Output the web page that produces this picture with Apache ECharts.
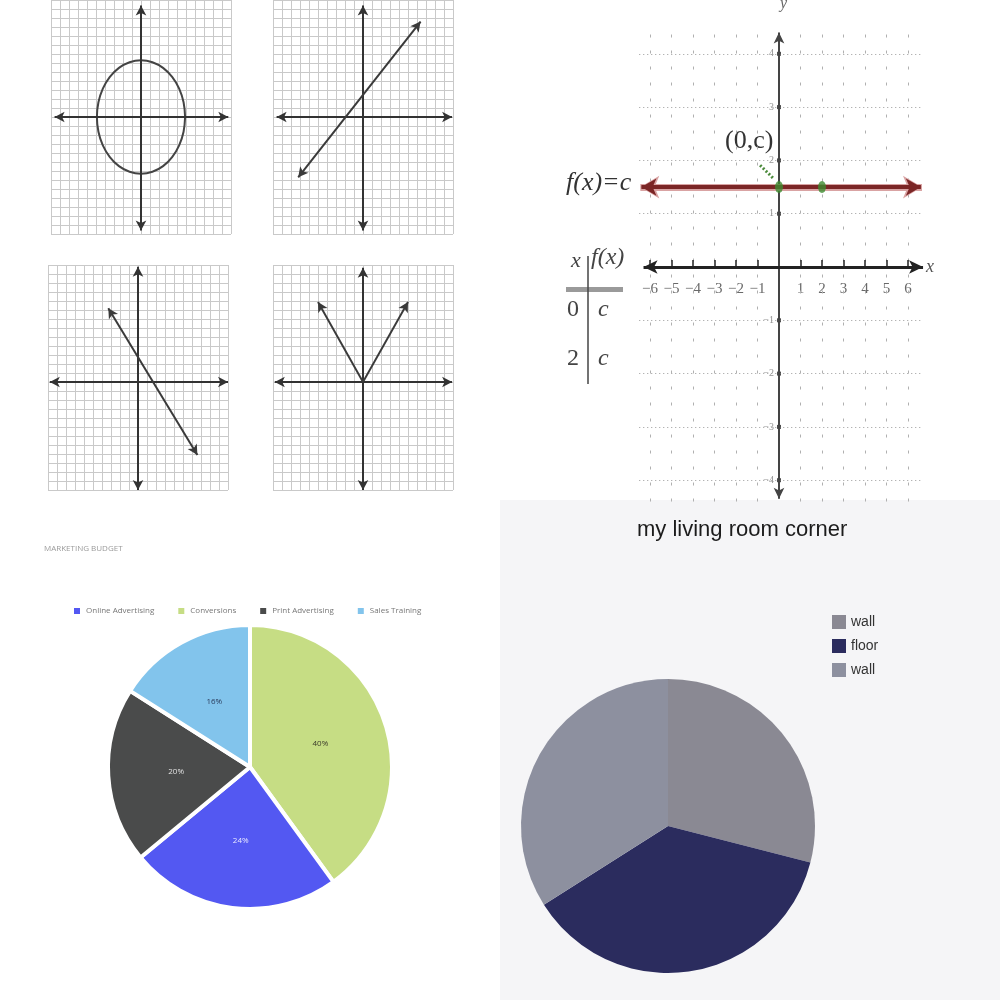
<!DOCTYPE html>
<html><head><meta charset="utf-8">
<script src="https://cdn.jsdelivr.net/npm/echarts@6/dist/echarts.min.js"></script>
<style>
html,body{margin:0;padding:0;background:#fff;}
#bg{position:absolute;left:500px;top:500px;width:500px;height:500px;background:#f5f5f7;}
#chart{position:absolute;left:0;top:0;width:1000px;height:1000px;}
</style></head><body>
<div id="bg"></div><div id="chart"></div>
<script>
// ---------- data ----------
// top-left graph-paper plots (grid units)
const ellipsePoints = [[4.9,0],[4.73,1.63],[4.24,3.15],[3.46,4.45],[2.45,5.46],[1.27,6.09],[0,6.3],
  [-1.27,6.09],[-2.45,5.46],[-3.46,4.45],[-4.24,3.15],[-4.73,1.63],[-4.9,0],
  [-4.73,-1.63],[-4.24,-3.15],[-3.46,-4.45],[-2.45,-5.46],[-1.27,-6.09],[0,-6.3],
  [1.27,-6.09],[2.45,-5.46],[3.46,-4.45],[4.24,-3.15],[4.73,-1.63],[4.9,0]];
const risingLine = [[-7.2,-6.7],[6.4,10.6]];
const fallingLine = [[-3.3,8.2],[6.6,-8.1]];
const absLeftArm = [[0,0],[-5,8.9]];
const absRightArm = [[0,0],[5,8.9]];
const plotXRange = [-10,10];
const plotYRanges = [[-13,13],[-13,13],[-12,13],[-12,13]];
const plotXAxisEnds = [[-9.6,9.7],[-9.6,9.9],[-9.8,10],[-9.8,9.9]];
const plotYAxisEnds = [[-12.6,12.4],[-12.6,12.4],[-12,12.8],[-12,12.7]];

// top-right constant function
const constC = 1.5;
const constPoints = [[0,1.5],[2,1.5]];
const xTickValues = [-6,-5,-4,-3,-2,-1,1,2,3,4,5,6];
const yTickValues = [4,3,2,1,-1,-2,-3,-4];
const cfXRange = [-6.5,6.7];
const cfYRange = [-4.4,4.5];
const leaderLine = [[-0.88,1.91],[-0.28,1.67]];
const tableRows = [['0','c'],['2','c']];

// bottom-left marketing budget
const budgetCategories = ['Conversions','Online Advertising','Print Advertising','Sales Training'];
const budgetValues = [40,24,20,16];
const budgetLegendOrder = ['Online Advertising','Conversions','Print Advertising','Sales Training'];

// bottom-right living room
const roomCategories = ['wall','floor','wall'];
const roomValues = [29,37,34];

// ---------- styles ----------
const budgetColors = ['#c6dd84','#5358f2','#4a4b4b','#82c4ec'];
const budgetLabelColors = ['#3a3a2a','#e8e8ff','#e0e0e0','#2a3a5a'];
const roomColors = ['#8a8993','#2b2c5e','#8d909f'];
const plotGrids = [
  {left:51, top:0, width:180, height:234},
  {left:273, top:0, width:180, height:234},
  {left:48, top:265, width:180, height:225},
  {left:273, top:265, width:180, height:225}
];
const serif = 'Liberation Serif';

function seg(a,b){ return [{coord:a},{coord:b}]; }

const grids = plotGrids.slice();
grids.push({left:639.25, top:27.15, width:(cfXRange[1]-cfXRange[0])*21.5, height:(cfYRange[1]-cfYRange[0])*53.3});

const xAxes = [], yAxes = [], series = [];
for (let i=0;i<4;i++){
  xAxes.push({gridIndex:i,type:'value',min:plotXRange[0],max:plotXRange[1],interval:1,
    axisLine:{show:false},axisTick:{show:false},axisLabel:{show:false},
    splitLine:{show:true,lineStyle:{color:'#c9c9c9',width:1}}});
  yAxes.push({gridIndex:i,type:'value',min:plotYRanges[i][0],max:plotYRanges[i][1],interval:1,
    axisLine:{show:false},axisTick:{show:false},axisLabel:{show:false},
    splitLine:{show:true,lineStyle:{color:'#c9c9c9',width:1}}});
}
xAxes.push({gridIndex:4,type:'value',min:cfXRange[0],max:cfXRange[1],show:false,splitLine:{show:false}});
yAxes.push({gridIndex:4,type:'value',min:cfYRange[0],max:cfYRange[1],show:false,splitLine:{show:false}});

const axisMark = (i)=>({silent:true,symbol:['arrow','arrow'],symbolSize:[8,10],label:{show:false},
  lineStyle:{color:'#333',width:2,type:'solid'},
  data:[seg([plotXAxisEnds[i][0],0],[plotXAxisEnds[i][1],0]), seg([0,plotYAxisEnds[i][0]],[0,plotYAxisEnds[i][1]])]});

// plot 1 ellipse
series.push({type:'line',xAxisIndex:0,yAxisIndex:0,data:ellipsePoints,smooth:0.4,symbol:'none',
  lineStyle:{color:'#444',width:2},markLine:axisMark(0),z:3});
// plot 2 rising
series.push({type:'line',xAxisIndex:1,yAxisIndex:1,data:[],markLine:axisMark(1)});
series.push({type:'line',xAxisIndex:1,yAxisIndex:1,data:[],markLine:{silent:true,symbol:['arrow','arrow'],symbolSize:[8,10],label:{show:false},
  lineStyle:{color:'#3a3a3a',width:2,type:'solid'},data:[seg(risingLine[0],risingLine[1])]}});
// plot 3 falling
series.push({type:'line',xAxisIndex:2,yAxisIndex:2,data:[],markLine:axisMark(2)});
series.push({type:'line',xAxisIndex:2,yAxisIndex:2,data:[],markLine:{silent:true,symbol:['arrow','arrow'],symbolSize:[8,10],label:{show:false},
  lineStyle:{color:'#3a3a3a',width:2,type:'solid'},data:[seg(fallingLine[0],fallingLine[1])]}});
// plot 4 abs
series.push({type:'line',xAxisIndex:3,yAxisIndex:3,data:[],markLine:axisMark(3)});
series.push({type:'line',xAxisIndex:3,yAxisIndex:3,data:[],markLine:{silent:true,symbol:['none','arrow'],symbolSize:[8,10],label:{show:false},
  lineStyle:{color:'#3a3a3a',width:2,type:'solid'},data:[seg(absLeftArm[0],absLeftArm[1]),seg(absRightArm[0],absRightArm[1])]}});

// top-right: constant function
const G = 4;
series.push({type:'line',xAxisIndex:G,yAxisIndex:G,data:[],markLine:{silent:true,symbol:['none','none'],label:{show:false},
  lineStyle:{color:'#9a9a9a',width:1,type:[1,3]},
  data:yTickValues.map(y=>seg([cfXRange[0],y],[cfXRange[1],y]))}});
series.push({type:'line',xAxisIndex:G,yAxisIndex:G,data:[],markLine:{silent:true,symbol:['none','none'],label:{show:false},
  lineStyle:{color:'#b0b0b0',width:1,type:[3,13]},
  data:xTickValues.map(x=>seg([x,cfYRange[0]],[x,cfYRange[1]]))}});
// y axis
series.push({type:'line',xAxisIndex:G,yAxisIndex:G,data:[],markLine:{silent:true,symbol:['arrow','arrow'],symbolSize:[8,11],label:{show:false},
  lineStyle:{color:'#444',width:2,type:'solid'},data:[seg([0,-4.35],[0,4.4])]}});
// x axis
series.push({type:'line',xAxisIndex:G,yAxisIndex:G,data:[],markLine:{silent:true,symbol:['arrow','arrow'],symbolSize:[10,14],label:{show:false},
  lineStyle:{color:'#222',width:3,type:'solid'},data:[seg([-6.3,0],[6.7,0])]}});
// x tick marks
series.push({type:'line',xAxisIndex:G,yAxisIndex:G,data:[],markLine:{silent:true,symbol:['none','none'],label:{show:false},
  lineStyle:{color:'#222',width:1.5,type:'solid'},data:xTickValues.map(x=>seg([x,0],[x,0.13]))}});
// x tick labels
series.push({type:'scatter',xAxisIndex:G,yAxisIndex:G,symbolSize:0,silent:true,
  data:xTickValues.map(x=>[x,0]),
  label:{show:true,position:'bottom',distance:15,fontSize:15,fontFamily:serif,color:'#444',
    formatter:p=>String(p.value[0]).replace('-','\u2212')}});
// y tick squares & labels
series.push({type:'scatter',xAxisIndex:G,yAxisIndex:G,symbol:'rect',symbolSize:4,silent:true,
  itemStyle:{color:'#222'},data:yTickValues.map(y=>[0,y]),
  label:{show:true,position:'left',distance:3,fontSize:10,fontFamily:serif,color:'#777',
    formatter:p=>String(p.value[1]).replace('-','\u2212')}});
// red constant line (underlay + line)
series.push({type:'line',xAxisIndex:G,yAxisIndex:G,data:[],z:4,markLine:{silent:true,symbol:['arrow','arrow'],symbolSize:[17,19],label:{show:false},
  lineStyle:{color:'#d9a3a3',width:7,type:'solid'},data:[seg([-6.45,constC],[6.65,constC])]}});
series.push({type:'line',xAxisIndex:G,yAxisIndex:G,data:[],z:5,markLine:{silent:true,symbol:['arrow','arrow'],symbolSize:[13,15],label:{show:false},
  lineStyle:{color:'#7b2626',width:4,type:'solid'},data:[seg([-6.4,constC],[6.6,constC])]}});
// leader
series.push({type:'line',xAxisIndex:G,yAxisIndex:G,data:[],markLine:{silent:true,symbol:['none','none'],label:{show:false},
  lineStyle:{color:'#4b8a3b',width:3,type:[2,2]},data:[seg(leaderLine[0],leaderLine[1])]}});
// green points
series.push({type:'scatter',xAxisIndex:G,yAxisIndex:G,z:6,symbol:'circle',symbolSize:[8,12],silent:true,
  itemStyle:{color:'#3d8b2f'},data:constPoints});

// bottom-left pie
series.push({type:'pie',center:[250,767],radius:142,startAngle:90,clockwise:true,silent:true,
  itemStyle:{borderColor:'#fff',borderWidth:4},
  data:budgetCategories.map((c,i)=>({name:c,value:budgetValues[i],itemStyle:{color:budgetColors[i]},
    label:{color:budgetLabelColors[i]}})),
  label:{show:true,position:'inside',fontSize:8,fontFamily:'Open Sans',formatter:p=>p.value+'%'},
  labelLine:{show:false}});

// bottom-right pie
const roomKeys = roomCategories.map((c,i)=>c+'|'+i);
series.push({type:'pie',center:[668,826],radius:147,startAngle:90,clockwise:true,silent:true,
  data:roomKeys.map((k,i)=>({name:k,value:roomValues[i],itemStyle:{color:roomColors[i]}})),
  label:{show:false},labelLine:{show:false}});

const tx = (text,x,y,size,opts)=>Object.assign({type:'text',left:x,top:y,silent:true,
  style:Object.assign({text:text,fontSize:size,fontFamily:serif,fill:'#333'},opts||{})});

const option = {
  animation:false,
  grid:grids,
  xAxis:xAxes,
  yAxis:yAxes,
  title:[
    {text:'MARKETING BUDGET',left:44,top:545,padding:0,textStyle:{fontSize:8,fontWeight:'normal',color:'#9a9a9a',fontFamily:'Open Sans'}},
    {text:'my living room corner',left:637,top:519,padding:0,textStyle:{fontSize:22,fontWeight:'normal',color:'#1c1c1c',fontFamily:'Liberation Sans'}}
  ],
  legend:[
    {seriesIndex:0,data:budgetLegendOrder,left:72,top:606,padding:0,itemWidth:8,itemHeight:8,itemGap:22,icon:'rect',
      selectedMode:false,textStyle:{fontSize:8,color:'#777',fontFamily:'Open Sans'}},
    {data:roomKeys,orient:'vertical',left:832,top:615,padding:0,itemWidth:14,itemHeight:14,itemGap:10,icon:'rect',
      selectedMode:false,formatter:n=>n.split('|')[0],textStyle:{fontSize:14,color:'#333',fontFamily:'Liberation Sans'}}
  ],
  graphic:[
    tx('y',780,-4,16,{fontStyle:'italic',fill:'#666'}),
    tx('x',926,258,18,{fontStyle:'italic',fill:'#555'}),
    tx('(0,c)',725,128,26,{fill:'#333'}),
    tx('f(x)=c',566,170,26,{fontStyle:'italic',fill:'#333'}),
    tx('x',571,250,22,{fontStyle:'italic',fill:'#444'}),
    tx('f(x)',591,246,24,{fontStyle:'italic',fill:'#444'}),
    tx(tableRows[0][0],567,298,24,{fill:'#444'}),
    tx(tableRows[0][1],598,298,24,{fontStyle:'italic',fill:'#444'}),
    tx(tableRows[1][0],567,347,24,{fill:'#444'}),
    tx(tableRows[1][1],598,347,24,{fontStyle:'italic',fill:'#444'}),
    {type:'rect',left:566,top:287,silent:true,shape:{width:57,height:5},style:{fill:'#9a9a9a'}},
    {type:'line',silent:true,shape:{x1:588,y1:256,x2:588,y2:384},style:{stroke:'#444',lineWidth:1.5}}
  ],
  series:series
};
const chart = echarts.init(document.getElementById('chart'),null,{renderer:'canvas'});
chart.setOption(option);
</script>
</body></html>
